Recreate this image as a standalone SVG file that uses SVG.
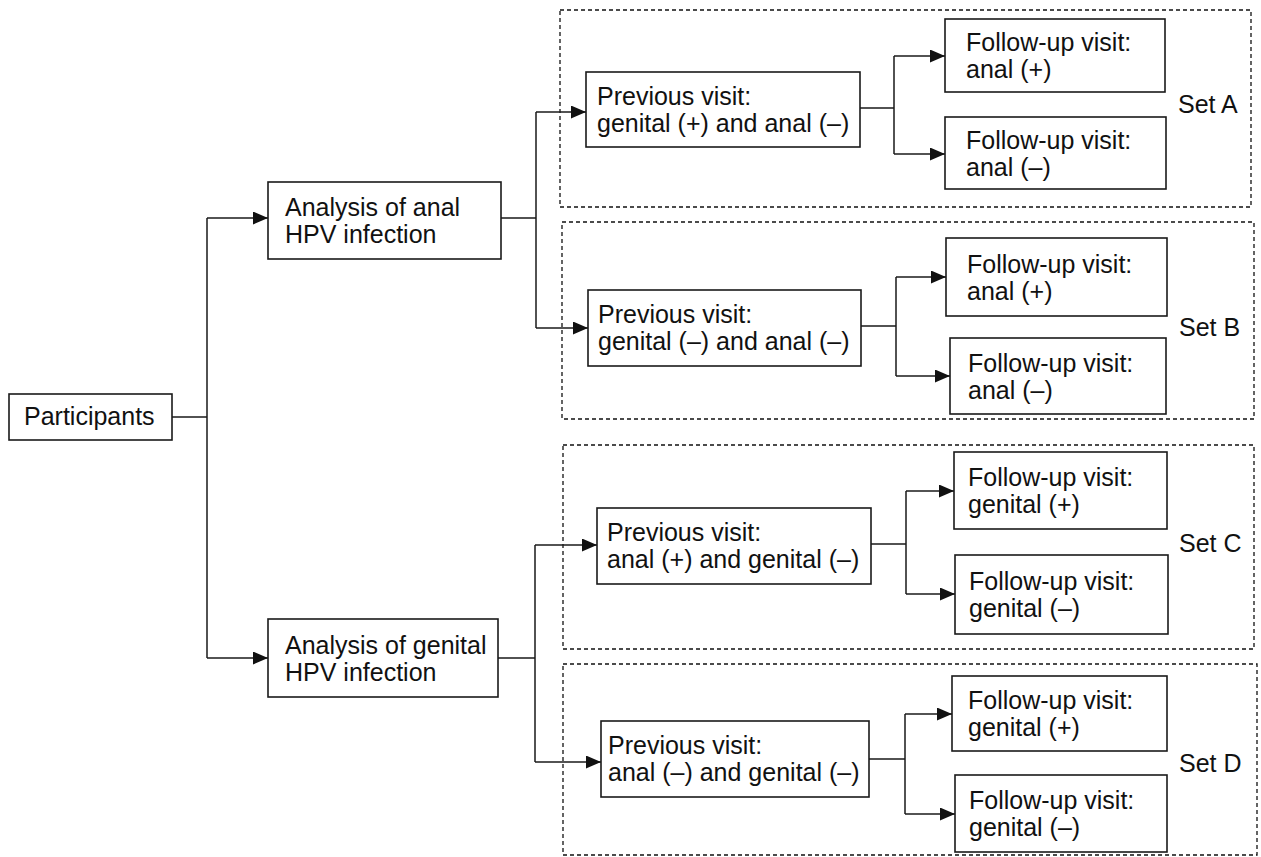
<svg xmlns="http://www.w3.org/2000/svg" width="1261" height="857" viewBox="0 0 1261 857">
<style>
.box{fill:#fff;stroke:#1a1a1a;stroke-width:1.6}
.set{fill:none;stroke:#111;stroke-width:1.3;stroke-dasharray:4 3}
.ln{fill:none;stroke:#1a1a1a;stroke-width:1.5}
.t{font-family:"Liberation Sans",Arial,Helvetica,sans-serif;font-size:25px;fill:#111}
</style>
<defs>
<marker id="ah" markerUnits="userSpaceOnUse" markerWidth="15" markerHeight="13" refX="15" refY="6.5" orient="auto">
<path d="M0,0 L15,6.5 L0,13 z" fill="#111"/>
</marker>
</defs>
<rect width="1261" height="857" fill="#fff"/>

<g id="setA"><rect class="set" x="560" y="10" width="691" height="197"/><text class="t" x="1178" y="113">Set A</text></g>
<g id="setB"><rect class="set" x="562" y="222" width="692" height="197"/><text class="t" x="1179" y="336">Set B</text></g>
<g id="setC"><rect class="set" x="563" y="445" width="691" height="204"/><text class="t" x="1179" y="552">Set C</text></g>
<g id="setD"><rect class="set" x="563" y="664" width="694" height="191"/><text class="t" x="1179" y="772">Set D</text></g>

<g id="connectors">
<path class="ln" d="M172,417 H207 M207,218 V658 M501,218 H536 M536,112 V328 M498,658 H535 M535,545 V762 M860,108 H894 M894,56 V154 M861,326 H896 M896,277 V376 M871,544 H906 M906,491 V594 M869,759 H905 M905,714 V814"/>
<path class="ln" marker-end="url(#ah)" d="M207,218 H268"/>
<path class="ln" marker-end="url(#ah)" d="M207,658 H268"/>
<path class="ln" marker-end="url(#ah)" d="M536,112 H586"/>
<path class="ln" marker-end="url(#ah)" d="M536,328 H588"/>
<path class="ln" marker-end="url(#ah)" d="M535,545 H597"/>
<path class="ln" marker-end="url(#ah)" d="M535,762 H601"/>
<path class="ln" marker-end="url(#ah)" d="M894,56 H945"/>
<path class="ln" marker-end="url(#ah)" d="M894,154 H945"/>
<path class="ln" marker-end="url(#ah)" d="M896,277 H946"/>
<path class="ln" marker-end="url(#ah)" d="M896,376 H950"/>
<path class="ln" marker-end="url(#ah)" d="M906,491 H954"/>
<path class="ln" marker-end="url(#ah)" d="M906,594 H955"/>
<path class="ln" marker-end="url(#ah)" d="M905,714 H952"/>
<path class="ln" marker-end="url(#ah)" d="M905,814 H955"/>
</g>

<g id="participants"><rect class="box" x="9" y="394" width="163" height="46"/><text class="t" x="24" y="425">Participants</text></g>

<g id="analAnalysis"><rect class="box" x="268" y="182" width="233" height="77"/>
<text class="t" x="285" y="216">Analysis of anal</text><text class="t" x="285" y="243">HPV infection</text></g>

<g id="genitalAnalysis"><rect class="box" x="268" y="619" width="230" height="78"/>
<text class="t" x="285" y="654">Analysis of genital</text><text class="t" x="285" y="681">HPV infection</text></g>

<g id="prevA"><rect class="box" x="586" y="72" width="274" height="75"/>
<text class="t" x="597" y="105">Previous visit:</text><text class="t" x="597" y="132">genital (+) and anal (–)</text></g>

<g id="prevB"><rect class="box" x="588" y="290" width="273" height="76"/>
<text class="t" x="598" y="323">Previous visit:</text><text class="t" x="598" y="350">genital (–) and anal (–)</text></g>

<g id="prevC"><rect class="box" x="597" y="508" width="274" height="76"/>
<text class="t" x="607" y="541">Previous visit:</text><text class="t" x="607" y="568">anal (+) and genital (–)</text></g>

<g id="prevD"><rect class="box" x="601" y="721" width="268" height="76"/>
<text class="t" x="608" y="754">Previous visit:</text><text class="t" x="608" y="781">anal (–) and genital (–)</text></g>

<g id="followAplus"><rect class="box" x="945" y="19" width="220" height="73"/>
<text class="t" x="966" y="51">Follow-up visit:</text><text class="t" x="966" y="78">anal (+)</text></g>
<g id="followAminus"><rect class="box" x="945" y="117" width="221" height="72"/>
<text class="t" x="966" y="149">Follow-up visit:</text><text class="t" x="966" y="176">anal (–)</text></g>

<g id="followBplus"><rect class="box" x="946" y="238" width="221" height="78"/>
<text class="t" x="967" y="273">Follow-up visit:</text><text class="t" x="967" y="300">anal (+)</text></g>
<g id="followBminus"><rect class="box" x="950" y="338" width="216" height="76"/>
<text class="t" x="968" y="372">Follow-up visit:</text><text class="t" x="968" y="399">anal (–)</text></g>

<g id="followCplus"><rect class="box" x="954" y="452" width="213" height="77"/>
<text class="t" x="968" y="486">Follow-up visit:</text><text class="t" x="968" y="513">genital (+)</text></g>
<g id="followCminus"><rect class="box" x="955" y="555" width="213" height="79"/>
<text class="t" x="969" y="590">Follow-up visit:</text><text class="t" x="969" y="617">genital (–)</text></g>

<g id="followDplus"><rect class="box" x="952" y="676" width="215" height="75"/>
<text class="t" x="968" y="709">Follow-up visit:</text><text class="t" x="968" y="736">genital (+)</text></g>
<g id="followDminus"><rect class="box" x="955" y="775" width="212" height="77"/>
<text class="t" x="969" y="809">Follow-up visit:</text><text class="t" x="969" y="836">genital (–)</text></g>
</svg>
